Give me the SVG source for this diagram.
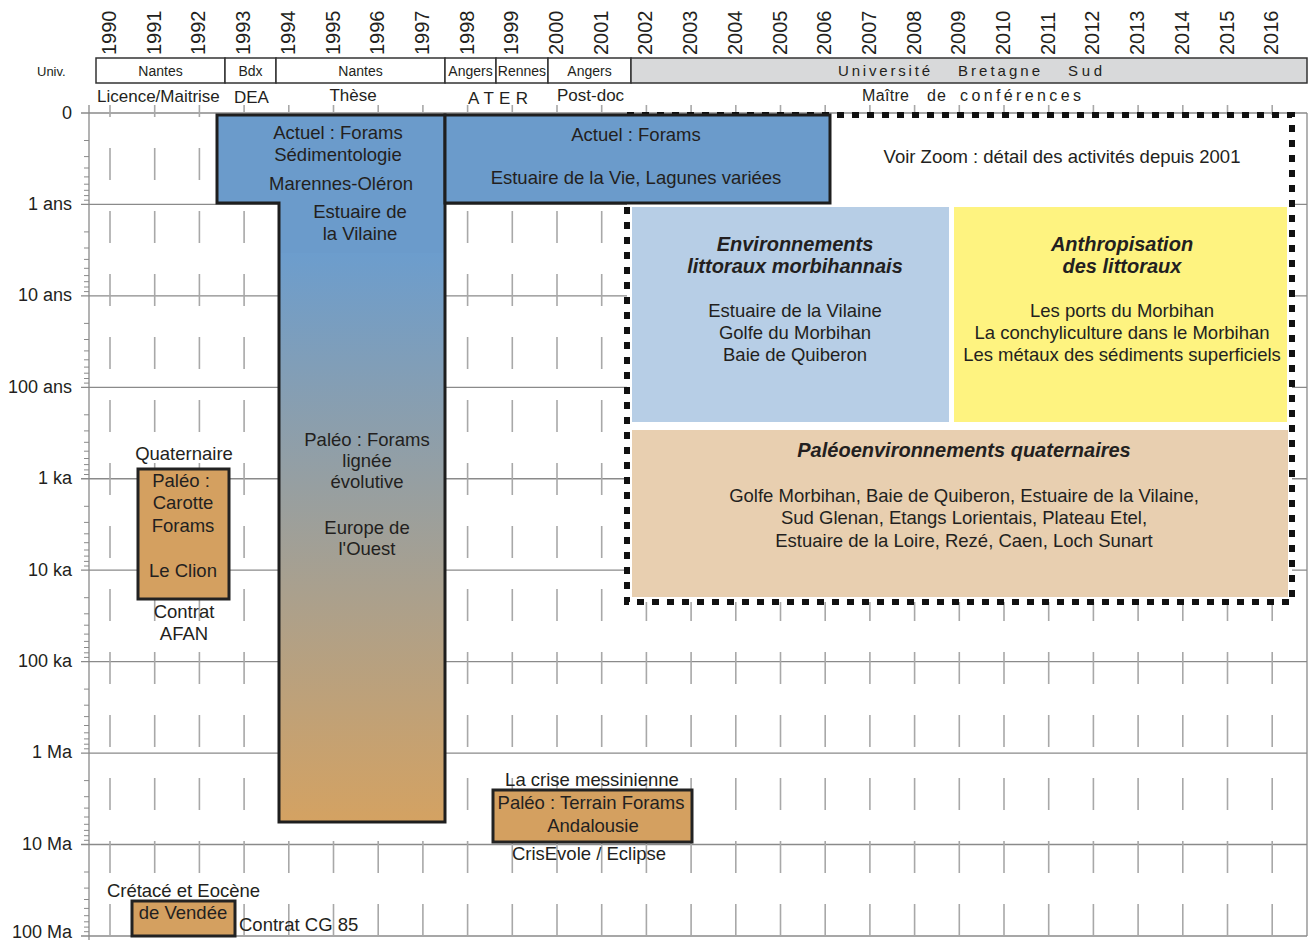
<svg xmlns="http://www.w3.org/2000/svg" width="1309" height="940" viewBox="0 0 1309 940">
<defs>
<linearGradient id="stemGrad" x1="0" y1="253" x2="0" y2="822" gradientUnits="userSpaceOnUse">
<stop offset="0" stop-color="#6c9dcd"/>
<stop offset="1" stop-color="#d4a262"/>
</linearGradient>
<style>
text{font-family:"Liberation Sans",Arial,sans-serif;fill:#231f20}
.yr{font-size:20px}
.uv{font-size:14px;text-anchor:middle}
.lb{font-size:17px}
.ax{font-size:18px;text-anchor:end}
.bx{font-size:18.5px;text-anchor:middle}
.hd{font-size:20px;font-weight:bold;font-style:italic;text-anchor:middle}
.grid{stroke:#8a8a8a;stroke-width:1.3;fill:none}
.dash{stroke:#a8a8a8;stroke-width:1.6;fill:none;stroke-dasharray:32 31}
.tick{stroke:#a8a8a8;stroke-width:1.6;fill:none}
.ubox{fill:#fff;stroke:#333;stroke-width:1.5}
.obox{fill:#d4a060;stroke:#222;stroke-width:3}
</style>
</defs>
<rect x="0" y="0" width="1309" height="940" fill="#fff"/>

<g id="years">
<text class="yr" transform="translate(116,55) rotate(-90)">1990</text>
<text class="yr" transform="translate(160.7,55) rotate(-90)">1991</text>
<text class="yr" transform="translate(205.4,55) rotate(-90)">1992</text>
<text class="yr" transform="translate(250.1,55) rotate(-90)">1993</text>
<text class="yr" transform="translate(294.8,55) rotate(-90)">1994</text>
<text class="yr" transform="translate(339.5,55) rotate(-90)">1995</text>
<text class="yr" transform="translate(384.2,55) rotate(-90)">1996</text>
<text class="yr" transform="translate(428.9,55) rotate(-90)">1997</text>
<text class="yr" transform="translate(473.6,55) rotate(-90)">1998</text>
<text class="yr" transform="translate(518.3,55) rotate(-90)">1999</text>
<text class="yr" transform="translate(563,55) rotate(-90)">2000</text>
<text class="yr" transform="translate(607.7,55) rotate(-90)">2001</text>
<text class="yr" transform="translate(652.4,55) rotate(-90)">2002</text>
<text class="yr" transform="translate(697.1,55) rotate(-90)">2003</text>
<text class="yr" transform="translate(741.8,55) rotate(-90)">2004</text>
<text class="yr" transform="translate(786.5,55) rotate(-90)">2005</text>
<text class="yr" transform="translate(831.2,55) rotate(-90)">2006</text>
<text class="yr" transform="translate(875.9,55) rotate(-90)">2007</text>
<text class="yr" transform="translate(920.6,55) rotate(-90)">2008</text>
<text class="yr" transform="translate(965.3,55) rotate(-90)">2009</text>
<text class="yr" transform="translate(1010,55) rotate(-90)">2010</text>
<text class="yr" transform="translate(1054.7,55) rotate(-90)">2011</text>
<text class="yr" transform="translate(1099.4,55) rotate(-90)">2012</text>
<text class="yr" transform="translate(1144.1,55) rotate(-90)">2013</text>
<text class="yr" transform="translate(1188.8,55) rotate(-90)">2014</text>
<text class="yr" transform="translate(1233.5,55) rotate(-90)">2015</text>
<text class="yr" transform="translate(1278.2,55) rotate(-90)">2016</text>
</g>

<g id="univ-row">
<text x="37" y="76" style="font-size:13px">Univ.</text>
<rect class="ubox" x="96" y="58" width="129" height="25"/>
<rect class="ubox" x="225" y="58" width="51" height="25"/>
<rect class="ubox" x="276" y="58" width="169" height="25"/>
<rect class="ubox" x="445" y="58" width="51" height="25"/>
<rect class="ubox" x="496" y="58" width="52" height="25"/>
<rect class="ubox" x="548" y="58" width="83" height="25"/>
<rect class="ubox" x="631" y="58" width="676" height="25" style="fill:#d8d9da"/>
<text class="uv" x="160.5" y="76">Nantes</text>
<text class="uv" x="250.5" y="76">Bdx</text>
<text class="uv" x="360.5" y="76">Nantes</text>
<text class="uv" x="470.5" y="76">Angers</text>
<text class="uv" x="522" y="76">Rennes</text>
<text class="uv" x="589.5" y="76">Angers</text>
<text x="838" y="76" style="font-size:15px" textLength="92" lengthAdjust="spacing">Université</text>
<text x="958" y="76" style="font-size:15px" textLength="82" lengthAdjust="spacing">Bretagne</text>
<text x="1068" y="76" style="font-size:15px" textLength="34" lengthAdjust="spacing">Sud</text>
</g>

<g id="status-row">
<text class="lb" x="97" y="102">Licence/Maitrise</text>
<text class="lb" x="234" y="103">DEA</text>
<text class="lb" x="353" y="101" text-anchor="middle">Thèse</text>
<text class="lb" x="468" y="104" textLength="60" lengthAdjust="spacing">ATER</text>
<text class="lb" x="557" y="101">Post-doc</text>
<text class="lb" x="862" y="101" style="font-size:16px" textLength="47" lengthAdjust="spacing">Maître</text>
<text class="lb" x="927" y="101" style="font-size:16px" textLength="19" lengthAdjust="spacing">de</text>
<text class="lb" x="960" y="101" style="font-size:16px" textLength="121" lengthAdjust="spacing">conférences</text>
</g>

<g id="axis">
<path class="grid" d="M81 113H1307M81 204.44H1307M81 295.88H1307M81 387.32H1307M81 478.76H1307M81 570.2H1307M81 661.64H1307M81 753.08H1307M81 844.52H1307M81 936H1307"/>
<path class="grid" d="M89 105V940M1307 113V936"/>
<path class="grid" style="stroke-width:1" d="M84 140.5h5M84 156.6h5M84 168h5M84 176.9h5M84 184.2h5M84 190.3h5M84 195.6h5M84 200.2h5
M84 231.9h5M84 248h5M84 259.4h5M84 268.3h5M84 275.6h5M84 281.7h5M84 287h5M84 291.6h5
M84 323.4h5M84 339.5h5M84 350.9h5M84 359.8h5M84 367.1h5M84 373.2h5M84 378.5h5M84 383.1h5
M84 414.8h5M84 430.9h5M84 442.3h5M84 451.2h5M84 458.5h5M84 464.6h5M84 469.9h5M84 474.5h5
M84 506.3h5M84 522.4h5M84 533.8h5M84 542.7h5M84 550h5M84 556.1h5M84 561.4h5M84 566h5
M84 597.7h5M84 613.8h5M84 625.2h5M84 634.1h5M84 641.4h5M84 647.5h5M84 652.8h5M84 657.4h5
M84 689.1h5M84 705.2h5M84 716.6h5M84 725.5h5M84 732.8h5M84 738.9h5M84 744.2h5M84 748.8h5
M84 780.6h5M84 796.7h5M84 808.1h5M84 817h5M84 824.3h5M84 830.4h5M84 835.7h5M84 840.3h5
M84 872h5M84 888.1h5M84 899.5h5M84 908.4h5M84 915.7h5M84 921.8h5M84 927.1h5M84 931.7h5"/>
<text class="ax" x="72" y="119">0</text>
<text class="ax" x="72" y="210">1 ans</text>
<text class="ax" x="72" y="301">10 ans</text>
<text class="ax" x="72" y="393">100 ans</text>
<text class="ax" x="72" y="484">1 ka</text>
<text class="ax" x="72" y="576">10 ka</text>
<text class="ax" x="72" y="667">100 ka</text>
<text class="ax" x="72" y="758">1 Ma</text>
<text class="ax" x="72" y="850">10 Ma</text>
<text class="ax" x="72" y="938">100 Ma</text>
</g>

<g id="year-dashes">
<path class="tick" d="M110 105V117M154.7 105V117M199.4 105V117M244.1 105V117M288.8 105V117M333.5 105V117M378.2 105V117M422.9 105V117M467.6 105V117M512.3 105V117M557 105V117M601.7 105V117M646.4 105V117M691.1 105V117M735.8 105V117M780.5 105V117M825.2 105V117M869.9 105V117M914.6 105V117M959.3 105V117M1004 105V117M1048.7 105V117M1093.4 105V117M1138.1 105V117M1182.8 105V117M1227.5 105V117M1272.2 105V117"/>
<path class="dash" d="M110 148V940M154.7 148V940M199.4 148V940M244.1 148V940M288.8 148V940M333.5 148V940M378.2 148V940M422.9 148V940M467.6 148V940M512.3 148V940M557 148V940M601.7 148V940M646.4 148V940M691.1 148V940M735.8 148V940M780.5 148V940M825.2 148V940M869.9 148V940M914.6 148V940M959.3 148V940M1004 148V940M1048.7 148V940M1093.4 148V940M1138.1 148V940M1182.8 148V940M1227.5 148V940M1272.2 148V940"/>
</g>

<g id="zoom-frame">
<rect x="627" y="115" width="665" height="487" fill="#fff" stroke="#111" stroke-width="6" stroke-dasharray="7 8"/>
<text class="bx" x="1062" y="163">Voir Zoom : détail des activités depuis 2001</text>
</g>

<g id="env-littoraux">
<rect x="632" y="207" width="317" height="215" fill="#b7cee6"/>
<text class="hd" x="795" y="251">Environnements</text>
<text class="hd" x="795" y="273">littoraux morbihannais</text>
<text class="bx" x="795" y="317">Estuaire de la Vilaine</text>
<text class="bx" x="795" y="339">Golfe du Morbihan</text>
<text class="bx" x="795" y="361">Baie de Quiberon</text>
</g>

<g id="anthropisation">
<rect x="954" y="207" width="333" height="215" fill="#fef380"/>
<text class="hd" x="1122" y="251">Anthropisation</text>
<text class="hd" x="1122" y="273">des littoraux</text>
<text class="bx" x="1122" y="317">Les ports du Morbihan</text>
<text class="bx" x="1122" y="339">La conchyliculture dans le Morbihan</text>
<text class="bx" x="1122" y="361">Les métaux des sédiments superficiels</text>
</g>

<g id="paleo-quaternaires">
<rect x="632" y="430" width="656" height="167" fill="#e8cfb0"/>
<text class="hd" x="964" y="457">Paléoenvironnements quaternaires</text>
<text class="bx" x="964" y="502">Golfe Morbihan, Baie de Quiberon, Estuaire de la Vilaine,</text>
<text class="bx" x="964" y="524">Sud Glenan, Etangs Lorientais, Plateau Etel,</text>
<text class="bx" x="964" y="547">Estuaire de la Loire, Rezé, Caen, Loch Sunart</text>
</g>

<g id="these">
<path d="M217 115H445V253H279V203H217Z" fill="#6b9bcb"/>
<rect x="279" y="253" width="166" height="569" fill="url(#stemGrad)"/>
<path d="M217 115H445V822H279V203H217Z" fill="none" stroke="#1e1e1e" stroke-width="3"/>
<text class="bx" x="338" y="139">Actuel : Forams</text>
<text class="bx" x="338" y="161">Sédimentologie</text>
<text class="bx" x="341" y="190">Marennes-Oléron</text>
<text class="bx" x="360" y="218">Estuaire de</text>
<text class="bx" x="360" y="240">la Vilaine</text>
<text class="bx" x="367" y="446">Paléo : Forams</text>
<text class="bx" x="367" y="467">lignée</text>
<text class="bx" x="367" y="488">évolutive</text>
<text class="bx" x="367" y="534">Europe de</text>
<text class="bx" x="367" y="555">l'Ouest</text>
</g>

<g id="actuel-vie">
<rect x="445" y="115" width="385" height="88" fill="#6b9bcb" stroke="#1e1e1e" stroke-width="3"/>
<text class="bx" x="636" y="141">Actuel : Forams</text>
<text class="bx" x="636" y="184">Estuaire de la Vie, Lagunes variées</text>
</g>

<g id="le-clion">
<text class="bx" x="184" y="460">Quaternaire</text>
<rect class="obox" x="138" y="469" width="91" height="130"/>
<text class="bx" x="181" y="487">Paléo :</text>
<text class="bx" x="183" y="509">Carotte</text>
<text class="bx" x="183" y="532">Forams</text>
<text class="bx" x="183" y="577">Le Clion</text>
<text class="bx" x="184" y="618">Contrat</text>
<text class="bx" x="184" y="640">AFAN</text>
</g>

<g id="messinien">
<text class="bx" x="592" y="786">La crise messinienne</text>
<rect class="obox" x="493" y="790" width="199" height="52"/>
<text class="bx" x="591" y="809">Paléo : Terrain Forams</text>
<text class="bx" x="593" y="832">Andalousie</text>
<text class="bx" x="589" y="860">CrisEvole / Eclipse</text>
</g>

<g id="vendee">
<text class="bx" x="183.5" y="897">Crétacé et Eocène</text>
<rect class="obox" x="132" y="901" width="103" height="35"/>
<text class="bx" x="183" y="919">de Vendée</text>
<text class="bx" x="239" y="931" style="text-anchor:start">Contrat CG 85</text>
</g>
</svg>
